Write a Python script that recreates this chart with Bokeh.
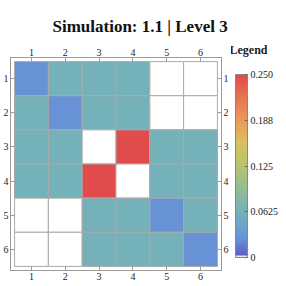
from bokeh.plotting import figure
from bokeh.layouts import row
from bokeh.models import (ColumnDataSource, LinearColorMapper, ColorBar, FixedTicker,
                          Range1d, LinearAxis, Title)
from bokeh.transform import transform
from bokeh.embed import file_html
from bokeh.resources import INLINE

# ---- data ----
row_labels = ["1", "2", "3", "4", "5", "6"]
col_labels = ["1", "2", "3", "4", "5", "6"]
row1 = [0.025, 0.0625, 0.0625, 0.0625, 0.0, 0.0]
row2 = [0.0625, 0.025, 0.0625, 0.0625, 0.0, 0.0]
row3 = [0.0625, 0.0625, 0.0, 0.25, 0.0625, 0.0625]
row4 = [0.0625, 0.0625, 0.25, 0.0, 0.0625, 0.0625]
row5 = [0.0, 0.0, 0.0625, 0.0625, 0.025, 0.0625]
row6 = [0.0, 0.0, 0.0625, 0.0625, 0.0625, 0.025]
matrix = [row1, row2, row3, row4, row5, row6]
cbar_ticks = [0.0, 0.0625, 0.125, 0.1875, 0.25]
cbar_labels = ["0", "0.0625", "0.125", "0.188", "0.250"]
vmin, vmax = 0.0, 0.25

# ---- palette (rainbow-like) ----
anchors = [(0.0, "#5a58c8"), (0.1, "#6893d6"), (0.25, "#75b2b8"), (0.5, "#b4c56e"),
           (0.63, "#dbc062"), (0.75, "#eb9b58"), (0.88, "#e67350"), (1.0, "#e24b4b")]


def hx(c):
    return tuple(int(c[i:i + 2], 16) for i in (1, 3, 5))


def interp(t):
    for (t0, c0), (t1, c1) in zip(anchors[:-1], anchors[1:]):
        if t0 <= t <= t1:
            f = (t - t0) / (t1 - t0)
            a, b = hx(c0), hx(c1)
            return "#%02x%02x%02x" % tuple(round(a[k] + (b[k] - a[k]) * f) for k in range(3))
    return anchors[-1][1]


N = 256
base = [interp(i / (N - 1)) for i in range(N)]
bar_palette = ["#eeeefa", "#eeeefa", "#e2e2f6"] + base[3:]

cell_mapper = LinearColorMapper(palette=base, low=1e-9, high=vmax, low_color="#ffffff")
bar_mapper = LinearColorMapper(palette=bar_palette, low=vmin, high=vmax)

xs, ys, vs = [], [], []
for r, rw in enumerate(matrix):
    for c, v in enumerate(rw):
        xs.append(c + 1)
        ys.append(r + 1)
        vs.append(v)
src = ColumnDataSource(dict(x=xs, y=ys, v=vs))

FONT = "Liberation Serif"
p = figure(width=231, height=282, x_range=Range1d(0.38, 6.62), y_range=Range1d(6.62, 0.38),
           output_backend="svg", toolbar_location=None,
           x_axis_location=None, y_axis_location=None,
           min_border_left=8, min_border_right=6, min_border_top=57, min_border_bottom=6)
p.xgrid.visible = False
p.ygrid.visible = False
p.outline_line_color = "#9a9a9a"
p.background_fill_color = "#ffffff"
p.border_fill_color = "#ffffff"

p.rect(x="x", y="y", width=1, height=1, source=src,
       fill_color=transform("v", cell_mapper), line_color="#a9a9a9", line_width=1)

ticks = [1, 2, 3, 4, 5, 6]
for loc in ["above", "below", "left", "right"]:
    labs = col_labels if loc in ("above", "below") else row_labels
    ax = LinearAxis(ticker=FixedTicker(ticks=ticks),
                    major_label_overrides={i + 1: lab for i, lab in enumerate(labs)})
    ax.axis_line_color = "#9a9a9a"
    ax.major_tick_line_color = "#9a9a9a"
    ax.major_tick_in = 4
    ax.major_tick_out = 0
    ax.minor_tick_line_color = None
    ax.major_label_text_font = FONT
    ax.major_label_text_font_size = "10px"
    ax.major_label_text_color = "#222222"
    ax.major_label_standoff = 2
    p.add_layout(ax, loc)

t = Title(text="Simulation: 1.1 | Level 3", text_font=FONT, text_font_style="bold",
          text_font_size="17px", align="left", offset=42, standoff=19, text_color="#111111")
p.add_layout(t, "above")

# ---- colour bar figure ----
q = figure(width=50, height=282, x_range=Range1d(0, 1), y_range=Range1d(0, 1),
           output_backend="svg", toolbar_location=None,
           x_axis_location=None, y_axis_location=None,
           min_border_left=0, min_border_right=0, min_border_top=0, min_border_bottom=0)
q.xgrid.visible = False
q.ygrid.visible = False
q.outline_line_color = None
q.border_fill_color = "#ffffff"
q.background_fill_color = "#ffffff"

cb = ColorBar(color_mapper=bar_mapper, ticker=FixedTicker(ticks=cbar_ticks),
              major_label_overrides={t: s for t, s in zip(cbar_ticks, cbar_labels)},
              width=12, height=183, location=(4, 13),
              major_label_text_font=FONT, major_label_text_font_size="10px",
              major_label_text_color="#222222", label_standoff=3,
              major_tick_line_color="#666666", major_tick_in=3, major_tick_out=0,
              minor_tick_line_color=None, bar_line_color="#888888",
              padding=0, margin=0, background_fill_color=None, border_line_color=None)
q.add_layout(cb, "center")

qt = Title(text="Legend", text_font=FONT, text_font_style="bold", text_font_size="12px",
           text_color="#222222", align="left", offset=-2, standoff=2)
q.add_layout(qt, "above")

layout = row(p, q, spacing=0)
open("out.html", "w").write(file_html(layout, INLINE))
